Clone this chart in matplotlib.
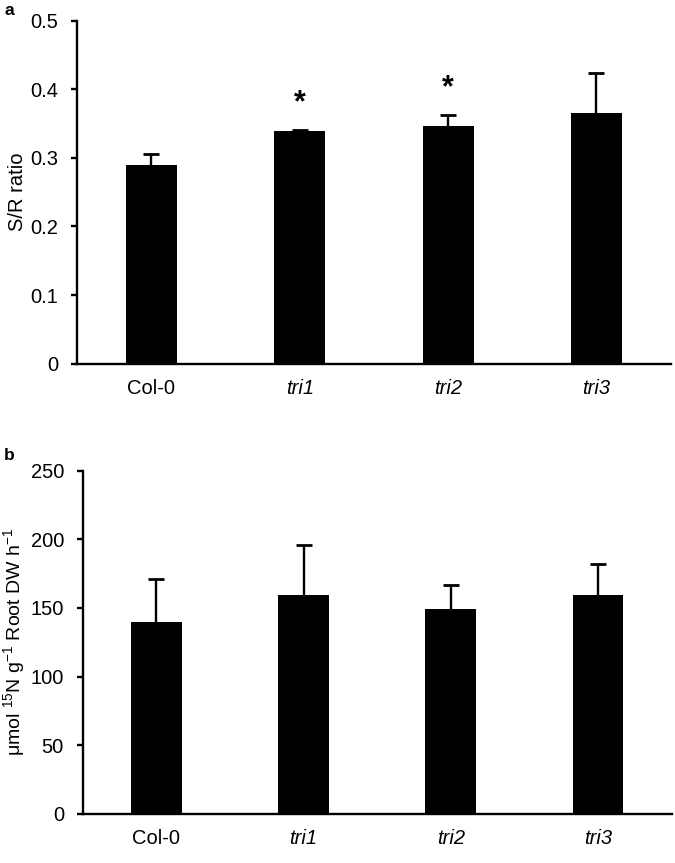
import matplotlib
matplotlib.use("Agg")
import matplotlib.pyplot as plt

plt.rcParams['font.family'] = ['Liberation Sans', 'DejaVu Sans']
plt.rcParams['mathtext.fontset'] = 'custom'
plt.rcParams['mathtext.rm'] = 'Liberation Sans'
plt.rcParams['mathtext.it'] = 'Liberation Sans:italic'
plt.rcParams['mathtext.bf'] = 'Liberation Sans:bold'

categories = ["Col-0", "tri1", "tri2", "tri3"]
italic = [False, True, True, True]

sr_ratio = [0.290, 0.339, 0.346, 0.365]
sr_err = [0.015, 0.002, 0.016, 0.058]
sr_marks = ["", "*", "*", ""]

uptake = [140, 159.6, 149, 159.2]
uptake_err = [31, 36, 18, 22.5]

fig = plt.figure(figsize=(6.75, 8.63), dpi=100)
ax1 = fig.add_axes([0.1145, 0.5786, 0.879, 0.3975])
ax2 = fig.add_axes([0.1225, 0.0571, 0.8726, 0.3975])

def style(ax, vals, errs, ylim, yticks, yticklabels, ylabel):
    x = list(range(len(categories)))
    ax.bar(x, vals, width=0.345, color='black', zorder=2)
    eb = ax.errorbar(x, vals, yerr=[[0]*len(errs), errs], fmt='none', ecolor='black',
                     elinewidth=1.7, capsize=6, capthick=2.0, zorder=3)
    caps = eb[1]
    if len(caps) == 2:
        caps[0].set_visible(False)
    ax.set_xlim(-0.5, 3.5)
    ax.set_ylim(*ylim)
    ax.set_yticks(yticks)
    ax.set_yticklabels(yticklabels)
    ax.set_xticks(x)
    ax.set_xticklabels(categories)
    for lbl, it in zip(ax.get_xticklabels(), italic):
        if it:
            lbl.set_style('italic')
    for s in ['top', 'right']:
        ax.spines[s].set_visible(False)
    for s in ['left', 'bottom']:
        ax.spines[s].set_linewidth(1.7)
    ax.tick_params(axis='x', length=0, pad=11, labelsize=14.5)
    ax.tick_params(axis='y', length=4.5, width=1.7, pad=9, labelsize=14.5, direction='out')
    ax.set_ylabel(ylabel, fontsize=14.5)

style(ax1, sr_ratio, sr_err, (0, 0.5), [0, 0.1, 0.2, 0.3, 0.4, 0.5],
      ["0", "0.1", "0.2", "0.3", "0.4", "0.5"], "S/R ratio")
ax1.yaxis.set_label_coords(-0.085, 0.5)
for i, m in enumerate(sr_marks):
    if m:
        ax1.text(i, sr_ratio[i] + sr_err[i] + 0.017, m, ha='center', va='bottom',
                 fontsize=22, fontweight='bold')

style(ax2, uptake, uptake_err, (0, 250), [0, 50, 100, 150, 200, 250],
      ["0", "50", "100", "150", "200", "250"],
      "μmol $^{15}$N g$^{-1}$ Root DW h$^{-1}$")
ax2.yaxis.label.set_fontsize(14)
ax2.yaxis.set_label_coords(-0.094, 0.5)

fig.text(0.006, 0.9826, "a", fontsize=12.5, fontweight='bold', va='baseline')
fig.text(0.006, 0.467, "b", fontsize=12.5, fontweight='bold', va='baseline')

fig.savefig("out.png", dpi=100)
